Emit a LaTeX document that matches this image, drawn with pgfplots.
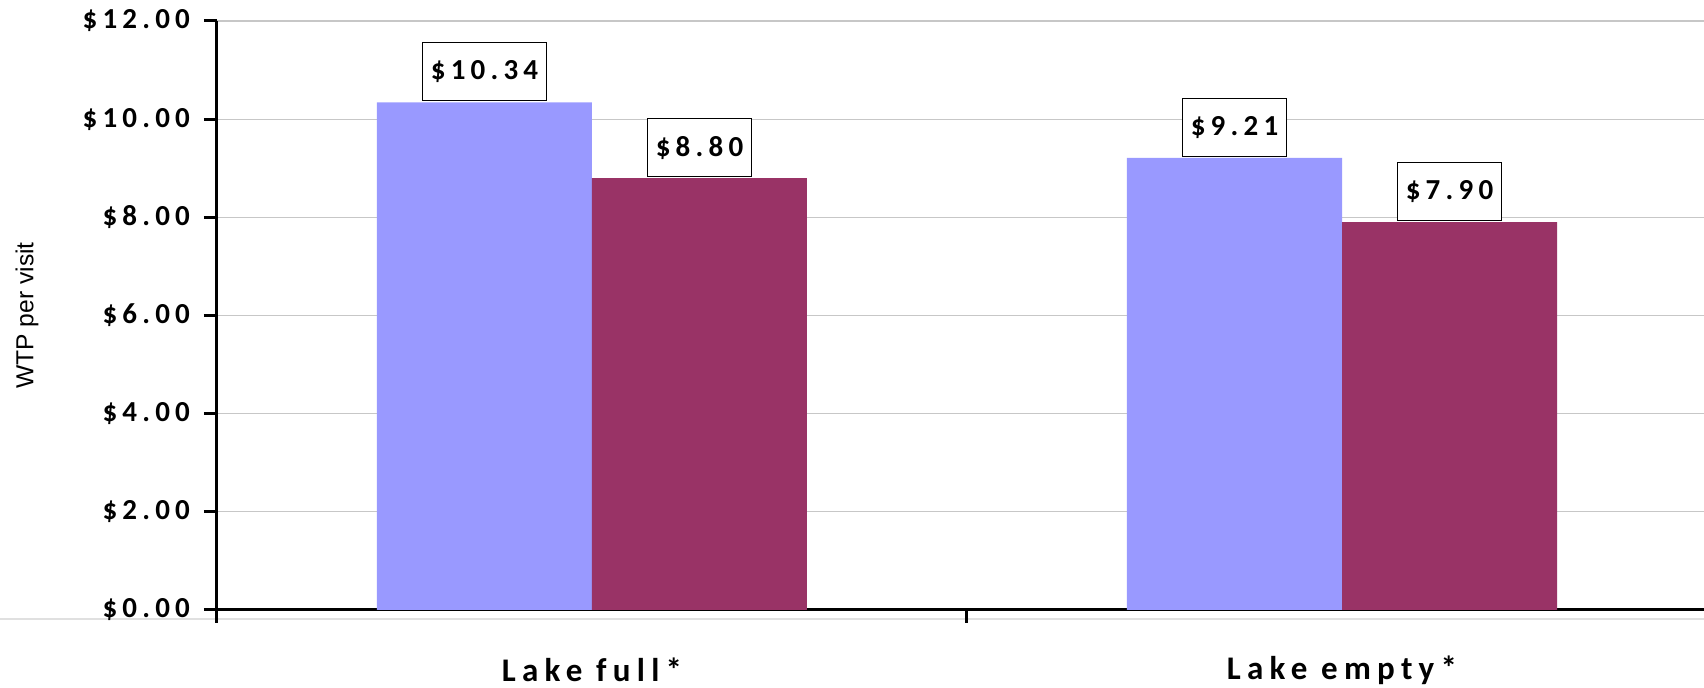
\documentclass[border=0pt]{standalone}
\usepackage{pgfplots}
\pgfplotsset{compat=1.18}
\usepackage{fontspec}
\setmainfont{Carlito}
\newfontfamily\tickfont[LetterSpace=18]{Carlito}
\newfontfamily\catfont[LetterSpace=19]{Carlito}
\newfontfamily\labfont{Liberation Sans}
\definecolor{barblue}{HTML}{9999FF}
\definecolor{barmaroon}{HTML}{993366}
\begin{document}
\begin{tikzpicture}
\path[use as bounding box] (-108.5pt,-39pt) rectangle (743.5pt,305pt);
\draw[black!12, line width=0.6pt] (-108.5pt,-4.5pt) -- (743.5pt,-4.5pt);
\begin{axis}[
  at={(0,0)}, anchor=south west,
  scale only axis, width=743.5pt, height=294.5pt,
  xmin=-0.5, xmax=1.48267, ymin=0, ymax=12,
  axis lines=left, axis line style={-, line width=1.5pt},
  ybar=0pt, bar width=107.5pt,
  ytick={0,2,...,12},
  yticklabels={\$0.00,\$2.00,\$4.00,\$6.00,\$8.00,\$10.00,\$12.00},
  yticklabel style={font=\fontsize{14.5}{17}\selectfont\tickfont\bfseries, xshift=-3.5pt},
  xtick={-0.5,0.5}, xticklabels={},
  extra x ticks={0,1}, extra x tick labels={Lake full*, Lake empty*},
  extra x tick style={major tick length=0pt, tick label style={font=\fontsize{16.5}{19}\selectfont\catfont\bfseries, anchor=center, yshift=-30pt}},
  tick align=outside, major tick length=6.5pt, tick style={line width=1.5pt, black},
  ymajorgrids, grid style={line width=0.6pt, black!22},
  ylabel={WTP per visit},
  ylabel style={font=\fontsize{12.3}{15}\selectfont\labfont, at={(axis description cs:-0.1278,0.5)}, anchor=center},
  point meta=explicit symbolic,
  nodes near coords,
  nodes near coords style={font=\fontsize{14.5}{17}\selectfont\tickfont\bfseries, draw=black, line width=0.5pt, fill=white, anchor=south, inner xsep=4pt, minimum height=29pt, yshift=0.5pt},
]
\addplot[fill=barblue, draw=none] coordinates {(0,10.34) [\$10.34] (1,9.21) [\$9.21]};
\addplot[fill=barmaroon, draw=none] coordinates {(0,8.80) [\$8.80] (1,7.90) [\$7.90]};
\end{axis}
\end{tikzpicture}
\end{document}
